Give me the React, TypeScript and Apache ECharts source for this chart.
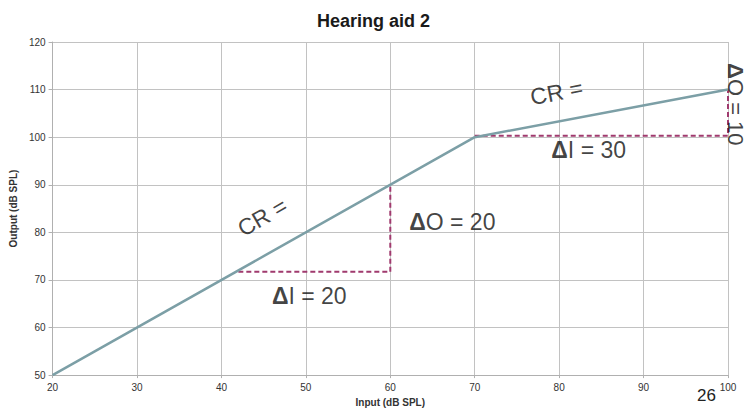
import React, { useEffect, useRef } from "react";
import * as echarts from "echarts";

const chartTitle = "Hearing aid 2";
const xAxisName = "Input (dB SPL)";
const yAxisName = "Output (dB SPL)";
const pageNumber = "26";

// input/output function (knee points)
const inputLevels = [20, 70, 100];
const outputLevels = [50, 100, 110];

// dashed ΔI / ΔO helper paths
const delta1X = [42, 60, 60];
const delta1Y = [71.7, 71.7, 90];
const delta2X = [70, 100, 100];
const delta2Y = [100.3, 100.3, 110];

// annotations (data coordinates)
const annotationTexts = ["CR =", "{b|Δ}O = 20", "{b|Δ}I = 20", "CR =", "{b|Δ}I = 30", "{b|Δ}O = 10"];
const annotationX = [44.85, 67.35, 50.4, 79.7, 83.5, 100.85];
const annotationY = [83.2, 82.1, 66.6, 109.4, 97.4, 106.9];

const FONT = "'Liberation Sans', Arial, sans-serif";

export default function App() {
  const ref = useRef<HTMLDivElement>(null);
  useEffect(() => {
    if (!ref.current) return;
    const chart = echarts.init(ref.current, null, { renderer: "svg" });
    const rotations = [30, 0, 0, 11, 0, -90];
    const zip = (xs: number[], ys: number[]) => xs.map((x, i) => [x, ys[i]]);
    chart.setOption({
      animation: false,
      backgroundColor: "#ffffff",
      title: {
        text: chartTitle,
        left: "center",
        top: 7,
        textStyle: { fontFamily: FONT, fontSize: 18, fontWeight: "bold", color: "#1a1a1a" },
      },
      grid: { left: 49, right: 19, top: 42, bottom: 32 },
      xAxis: {
        type: "value",
        min: 20,
        max: 100,
        interval: 10,
        name: xAxisName,
        nameLocation: "middle",
        nameGap: 18,
        nameTextStyle: { fontFamily: FONT, fontSize: 10, fontWeight: "bold", color: "#333" },
        axisLine: { show: true, lineStyle: { color: "#b0b0b0", width: 1 } },
        axisTick: { show: true, length: 3, lineStyle: { color: "#b0b0b0" } },
        axisLabel: { fontFamily: FONT, fontSize: 10, color: "#333", margin: 7 },
        splitLine: { show: true, lineStyle: { color: "#c2c2c2", width: 1 } },
      },
      yAxis: {
        type: "value",
        min: 50,
        max: 120,
        interval: 10,
        name: yAxisName,
        nameLocation: "middle",
        nameRotate: 90,
        nameGap: 31,
        nameTextStyle: { fontFamily: FONT, fontSize: 10, fontWeight: "bold", color: "#333" },
        axisLine: { show: true, lineStyle: { color: "#b0b0b0", width: 1 } },
        axisTick: { show: true, length: 4, lineStyle: { color: "#b0b0b0" } },
        axisLabel: { fontFamily: FONT, fontSize: 10, color: "#333", margin: 7 },
        splitLine: { show: true, lineStyle: { color: "#c2c2c2", width: 1 } },
      },
      graphic: [
        {
          type: "text",
          left: 697,
          top: 387,
          style: { text: pageNumber, font: `17px ${FONT}`, fill: "#222" },
        },
      ],
      series: [
        {
          type: "line",
          data: zip(delta1X, delta1Y),
          showSymbol: false,
          lineStyle: { color: "#a03a6e", width: 2, type: [5, 3] },
          z: 3,
          silent: true,
        },
        {
          type: "line",
          data: zip(delta2X, delta2Y),
          showSymbol: false,
          lineStyle: { color: "#a03a6e", width: 2, type: [5, 3] },
          z: 3,
          silent: true,
        },
        {
          type: "line",
          data: zip(inputLevels, outputLevels),
          showSymbol: false,
          lineStyle: { color: "#7c9fa6", width: 2.5 },
          z: 4,
          silent: true,
        },
        {
          type: "scatter",
          clip: false,
          symbolSize: 0,
          silent: true,
          z: 5,
          data: annotationTexts.map((t, i) => ({
            value: [annotationX[i], annotationY[i]],
            label: {
              show: true,
              position: "inside",
              formatter: t,
              rotate: rotations[i],
              fontFamily: FONT,
              fontSize: i === 5 ? 22 : 23,
              color: "#111",
              rich: {
                b: { fontFamily: FONT, fontSize: i === 5 ? 22 : 23, fontWeight: "bold", color: "#111" },
              },
            },
          })),
        },
      ],
    });
    return () => chart.dispose();
  }, []);
  return (
    <div
      ref={ref}
      style={{ position: "fixed", left: 0, top: 0, width: 747, height: 412, background: "#fff" }}
    />
  );
}
